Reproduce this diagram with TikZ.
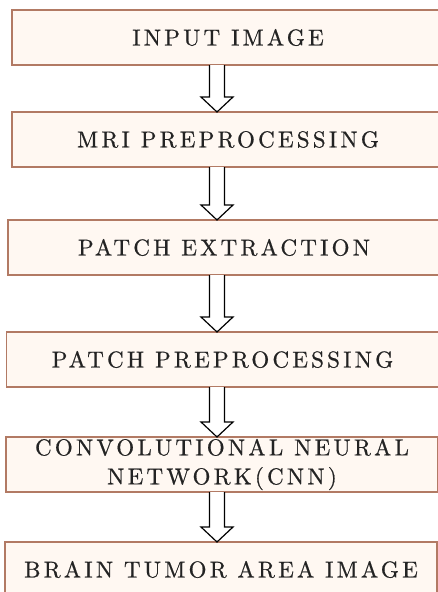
\documentclass[tikz,border=0pt]{standalone}
\usepackage{fontspec}
\newfontfamily\stagefont{lmroman10-regular.otf}[LetterSpace=14, FakeBold=0.7]
\usetikzlibrary{positioning, calc}
\usepackage{xcolor}
\definecolor{boxline}{RGB}{178,122,100}
\definecolor{boxfill}{RGB}{255,248,242}
\definecolor{boxtext}{RGB}{35,35,35}
\tikzset{
	x=1pt, y=-1pt,
	stage/.style={draw=boxline, fill=boxfill, line width=1.7pt,
		minimum width=432pt, minimum height=55pt, inner ysep=1.5pt,
		outer sep=0pt, align=center, text=boxtext,
		font=\stagefont\fontsize{23}{29}\selectfont},
	hollow/.style={draw=black, fill=white, line width=1.2pt, line join=miter}}

\begin{document}
\begin{tikzpicture}
		\useasboundingbox (0,0) rectangle (438,592);

		\node[stage] (in) at (228,37.5) {INPUT IMAGE};
		\node[stage, below=47pt of in] (mri) {MRI PREPROCESSING};
		\node[stage, below=53pt of mri, xshift=-4pt] (pex) {PATCH EXTRACTION};
		\node[stage, below=57pt of pex, xshift=-1.5pt] (ppre) {PATCH PREPROCESSING};
		\node[stage, below=50pt of ppre, xshift=-0.5pt] (cnn) {CONVOLUTIONAL NEURAL\\NETWORK(CNN)};
		\node[stage, below=50pt of cnn, xshift=-1pt] (out) {BRAIN TUMOR AREA IMAGE};

		% hollow down arrows between the stages
		\foreach \a/\b in {in/mri, mri/pex, pex/ppre, ppre/cnn, cnn/out}
		\draw[hollow] let \p1=(\a.south), \p2=(\b.north) in
		(209.5pt,\y1) -- (209.5pt,\y2+15pt) -- (201pt,\y2+15pt) -- (217pt,\y2)
		-- (233pt,\y2+15pt) -- (224.5pt,\y2+15pt) -- (224.5pt,\y1);
	\end{tikzpicture}
\end{document}
